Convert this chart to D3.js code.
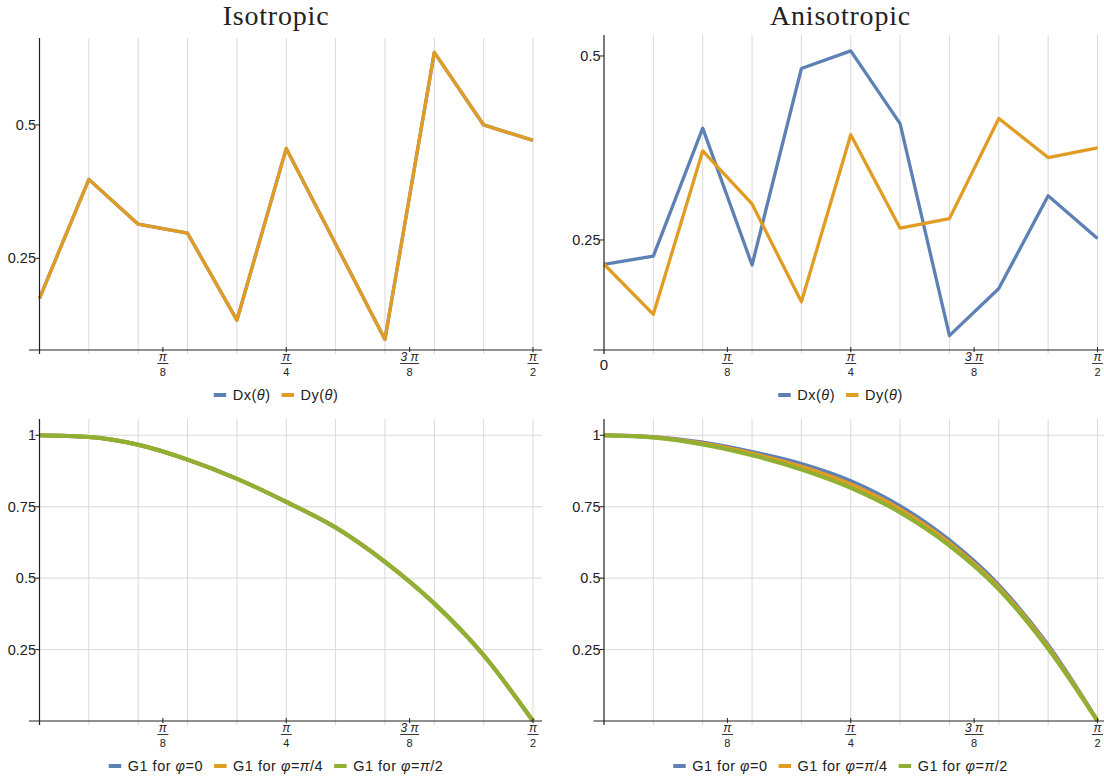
<!DOCTYPE html>
<html>
<head>
<meta charset="utf-8">
<script src="https://cdn.jsdelivr.net/npm/d3@7"></script>
<style>
  body { margin: 0; background: #fff; }
  text { font-family: "Liberation Sans", Arial, sans-serif; fill: #222; }
</style>
</head>
<body>
<div id="chart"></div>
<script>
// angle index k, theta = k * pi/20
const angleSteps = [0, 1, 2, 3, 4, 5, 6, 7, 8, 9, 10];

// top row: diffusion coefficients
const isoDx = [0.175, 0.398, 0.314, 0.297, 0.134, 0.456, 0.277, 0.098, 0.636, 0.500, 0.471];
const isoDy = [0.175, 0.398, 0.314, 0.297, 0.134, 0.456, 0.277, 0.098, 0.636, 0.500, 0.471];
const anisoDx = [0.217, 0.228, 0.402, 0.216, 0.483, 0.507, 0.408, 0.120, 0.184, 0.310, 0.252];
const anisoDy = [0.217, 0.149, 0.371, 0.299, 0.166, 0.393, 0.266, 0.279, 0.415, 0.362, 0.375];

// bottom row: G1
const isoG1Phi0 = [1.0, 0.994, 0.967, 0.915, 0.848, 0.767, 0.677, 0.557, 0.411, 0.230, 0.0];
const isoG1PhiPi4 = [1.0, 0.994, 0.967, 0.915, 0.848, 0.767, 0.677, 0.557, 0.411, 0.230, 0.0];
const isoG1PhiPi2 = [1.0, 0.994, 0.967, 0.915, 0.848, 0.767, 0.677, 0.557, 0.411, 0.230, 0.0];
const anisoG1Phi0 = [1.0, 0.994, 0.975, 0.942, 0.900, 0.840, 0.752, 0.632, 0.475, 0.265, 0.0];
const anisoG1PhiPi4 = [1.0, 0.993, 0.971, 0.936, 0.890, 0.828, 0.741, 0.623, 0.468, 0.259, 0.0];
const anisoG1PhiPi2 = [1.0, 0.992, 0.968, 0.930, 0.880, 0.816, 0.730, 0.614, 0.461, 0.253, 0.0];

const topYTicks = [0.25, 0.5];
const bottomYTicks = [0.25, 0.5, 0.75, 1];
const xTickLabels = [
  { k: 2.5, num: "π", den: "8" },
  { k: 5, num: "π", den: "4" },
  { k: 7.5, num: "3 π", den: "8" },
  { k: 10, num: "π", den: "2" }
];

const colors = ["#5E81B5", "#E19C24", "#8FB032"];

const svg = d3.select("#chart").append("svg")
  .attr("width", 1104)
  .attr("height", 781);

const toTheta = k => k * Math.PI / 20;

function drawPanel(opts) {
  const g = svg.append("g").attr("transform", `translate(${opts.dx},0)`);
  const x = d3.scaleLinear().domain([0, Math.PI / 2]).range([39.5, 533]);
  const y = d3.scaleLinear().domain(opts.yDomain).range([opts.axisY, opts.top]);
  const left = x(0) - 10.5, right = x(Math.PI / 2) + 9;
  const bottom = opts.axisY + 4;

  // vertical grid
  g.selectAll(".vgrid").data(angleSteps.slice(1)).enter().append("line")
    .attr("x1", d => x(toTheta(d))).attr("x2", d => x(toTheta(d)))
    .attr("y1", opts.top).attr("y2", bottom)
    .attr("stroke", "#d9d9d9").attr("stroke-width", 1);

  if (opts.hgrid) {
    g.selectAll(".hgrid").data(opts.yTicks).enter().append("line")
      .attr("x1", left).attr("x2", right)
      .attr("y1", d => y(d)).attr("y2", d => y(d))
      .attr("stroke", "#d9d9d9").attr("stroke-width", 1);
  }

  // series
  const line = d3.line()
    .x((d, i) => x(toTheta(angleSteps[i])))
    .y(d => y(d))
    .curve(opts.smooth ? d3.curveMonotoneX : d3.curveLinear);

  opts.series.forEach((s, i) => {
    g.append("path")
      .datum(s)
      .attr("d", line)
      .attr("fill", "none")
      .attr("stroke", colors[i])
      .attr("stroke-width", opts.lineWidth)
      .attr("stroke-linejoin", "round");
  });

  // axes
  g.append("line").attr("x1", left).attr("x2", right)
    .attr("y1", opts.axisY).attr("y2", opts.axisY)
    .attr("stroke", "#222").attr("stroke-width", 1.2);
  g.append("line").attr("x1", x(0)).attr("x2", x(0))
    .attr("y1", opts.top).attr("y2", bottom)
    .attr("stroke", "#222").attr("stroke-width", 1.2);

  // y ticks
  const yt = g.selectAll(".yt").data(opts.yTicks).enter();
  yt.append("line")
    .attr("x1", x(0) - 4).attr("x2", x(0))
    .attr("y1", d => y(d)).attr("y2", d => y(d))
    .attr("stroke", "#222").attr("stroke-width", 1);
  yt.append("text")
    .attr("x", x(0) - 3.5).attr("y", d => y(d) + 5)
    .attr("text-anchor", "end")
    .attr("font-size", 14.5)
    .text(d => d3.format("")(d));

  // x ticks with fraction labels
  const xt = g.selectAll(".xt").data(xTickLabels).enter().append("g")
    .attr("transform", d => `translate(${x(toTheta(d.k))},${opts.axisY})`);
  xt.append("line").attr("y1", -3).attr("y2", 2)
    .attr("stroke", "#222").attr("stroke-width", 1);
  xt.append("text").attr("y", 11).attr("text-anchor", "middle")
    .attr("font-size", 12).attr("font-style", "italic")
    .attr("font-family", "'DejaVu Serif', serif")
    .text(d => d.num);
  xt.append("line")
    .attr("x1", d => d.num.length > 1 ? -9.5 : -5.5)
    .attr("x2", d => d.num.length > 1 ? 9.5 : 5.5)
    .attr("y1", 13.5).attr("y2", 13.5)
    .attr("stroke", "#222").attr("stroke-width", 0.9);
  xt.append("text").attr("y", 26).attr("text-anchor", "middle")
    .attr("font-size", 11)
    .text(d => d.den);

  if (opts.zeroLabel) {
    g.append("text").attr("x", x(0)).attr("y", opts.axisY + 20)
      .attr("text-anchor", "middle").attr("font-size", 15).text("0");
  }

  // title
  if (opts.title) {
    g.append("text").attr("x", 276).attr("y", 25)
      .attr("text-anchor", "middle")
      .style("font-family", "'Liberation Serif', 'Times New Roman', serif")
      .attr("font-size", 28).attr("letter-spacing", 0.8)
      .text(opts.title);
  }

  // legend
  const leg = g.append("g");
  let cx = 0;
  opts.legend.forEach((parts, i) => {
    leg.append("line").attr("x1", cx).attr("x2", cx + 12.5)
      .attr("y1", 0).attr("y2", 0)
      .attr("stroke", colors[i]).attr("stroke-width", 4);
    const t = leg.append("text").attr("x", cx + 19).attr("y", 5)
      .attr("font-size", 14.5).attr("letter-spacing", 0.5);
    parts.forEach(p => {
      t.append("tspan").attr("font-style", p.i ? "italic" : "normal").text(p.t);
    });
    cx += 19 + t.node().getComputedTextLength() + 11;
  });
  const legW = cx - 11;
  leg.attr("transform", `translate(${276 - legW / 2},${opts.legendY})`);
}

const dLegend = [
  [{ t: "Dx(" }, { t: "θ", i: true }, { t: ")" }],
  [{ t: "Dy(" }, { t: "θ", i: true }, { t: ")" }]
];
const gLegend = [
  [{ t: "G1 for " }, { t: "φ", i: true }, { t: "=0" }],
  [{ t: "G1 for " }, { t: "φ", i: true }, { t: "=" }, { t: "π", i: true }, { t: "/4" }],
  [{ t: "G1 for " }, { t: "φ", i: true }, { t: "=" }, { t: "π", i: true }, { t: "/2" }]
];

drawPanel({
  dx: 0, title: "Isotropic", axisY: 350, top: 38, yDomain: [0.0781, 0.663],
  yTicks: topYTicks, series: [isoDx, isoDy], lineWidth: 3.3, legend: dLegend, legendY: 395
});
drawPanel({
  dx: 564.5, title: "Anisotropic", axisY: 350, top: 35, yDomain: [0.1005, 0.5285],
  yTicks: topYTicks, series: [anisoDx, anisoDy], lineWidth: 3.3, legend: dLegend, legendY: 395,
  zeroLabel: true
});
drawPanel({
  dx: 0, axisY: 721, top: 419, yDomain: [0, 1.057], hgrid: true, smooth: true,
  yTicks: bottomYTicks, series: [isoG1Phi0, isoG1PhiPi4, isoG1PhiPi2], lineWidth: 4,
  legend: gLegend, legendY: 766
});
drawPanel({
  dx: 564.5, axisY: 721, top: 419, yDomain: [0, 1.057], hgrid: true, smooth: true,
  yTicks: bottomYTicks, series: [anisoG1Phi0, anisoG1PhiPi4, anisoG1PhiPi2], lineWidth: 4,
  legend: gLegend, legendY: 766
});
</script>
</body>
</html>
